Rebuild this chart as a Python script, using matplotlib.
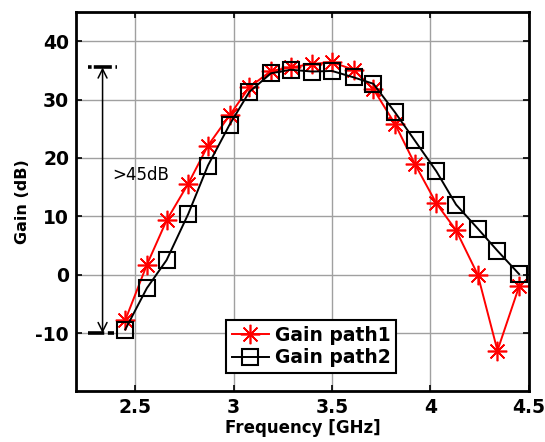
import numpy as np
import matplotlib
matplotlib.use('Agg')
import matplotlib.pyplot as plt

# donnees
freq = [2.45, 2.56, 2.66, 2.77, 2.87, 2.98, 3.08, 3.19, 3.29, 3.40,
        3.50, 3.61, 3.71, 3.82, 3.92, 4.03, 4.13, 4.24, 4.34, 4.45]
gain_path1 = [-7.8, 1.7, 9.3, 15.6, 22.1, 27.3, 32.1, 34.9, 35.5, 36.1,
              36.4, 35.1, 31.8, 25.8, 19.0, 12.2, 7.6, 0.0, -13.0, -2.0]
gain_path2 = [-9.4, -2.3, 2.5, 10.4, 18.7, 25.7, 31.3, 34.5, 35.1, 34.8,
              34.9, 33.8, 32.7, 27.8, 23.0, 17.7, 12.0, 7.9, 4.1, 0.1]
x_ticks = [2.5, 3, 3.5, 4, 4.5]
x_labels = ['2.5', '3', '3.5', '4', '4.5']
y_ticks = [-10, 0, 10, 20, 30, 40]

# annotation >45dB
span_top = 35.5
span_bottom = -10
span_x = 2.335

plt.rcParams['font.family'] = ['DejaVu Sans']
plt.rcParams['axes.unicode_minus'] = False

fig = plt.figure(figsize=(5.45, 4.42), dpi=100)
ax = fig.add_axes([0.1394, 0.1143, 0.8312, 0.8586])

ax.plot(freq, gain_path1, color='red', lw=1.4, marker=(8, 2, 0), ms=14, mew=1.2,
        label='Gain path1')
ax.plot(freq, gain_path2, color='black', lw=1.4, marker='s', ms=11, mfc='none', mew=1.5,
        label='Gain path2')

# lignes pointillees + fleche double
ax.plot([2.262, 2.408], [span_top, span_top], color='black', lw=2.6, ls=(0, (1, 0.6, 5, 1)),
        clip_on=False)
ax.plot([2.262, 2.395], [span_bottom, span_bottom], color='black', lw=2.6, ls=(0, (4.5, 1)),
        clip_on=False)
ax.annotate('', xy=(span_x, span_top), xytext=(span_x, span_bottom),
            arrowprops=dict(arrowstyle='<->', color='black', lw=1.1, mutation_scale=16,
                            shrinkA=0, shrinkB=0))
ax.text(2.383, 17.0, '>45dB', fontsize=12, va='center', ha='left')

ax.set_xlim(2.2, 4.5)
ax.set_ylim(-20, 45)
ax.set_xticks(x_ticks)
ax.set_xticklabels(x_labels)
ax.set_yticks(y_ticks)
ax.grid(True, color='#a0a0a0', lw=1.0)
ax.tick_params(direction='in', length=4, width=1.2, top=True, right=True,
               labelsize=13.5, pad=5)
for lab in ax.get_xticklabels() + ax.get_yticklabels():
    lab.set_fontweight('bold')
for s in ax.spines.values():
    s.set_linewidth(2)

ax.set_xlabel('Frequency [GHz]', fontsize=12, fontweight='bold', labelpad=1)
ax.set_ylabel('Gain (dB)', fontsize=11.5, fontweight='bold', labelpad=4)

leg = ax.legend(loc='lower left', bbox_to_anchor=(0.331, 0.049), fancybox=False,
                framealpha=1, edgecolor='black', handlelength=2.0,
                prop={'weight': 'bold', 'size': 13.5}, borderpad=0.3,
                labelspacing=0.2, handletextpad=0.3, borderaxespad=0)
leg.get_frame().set_linewidth(1.5)

fig.savefig('out.png', dpi=100)
